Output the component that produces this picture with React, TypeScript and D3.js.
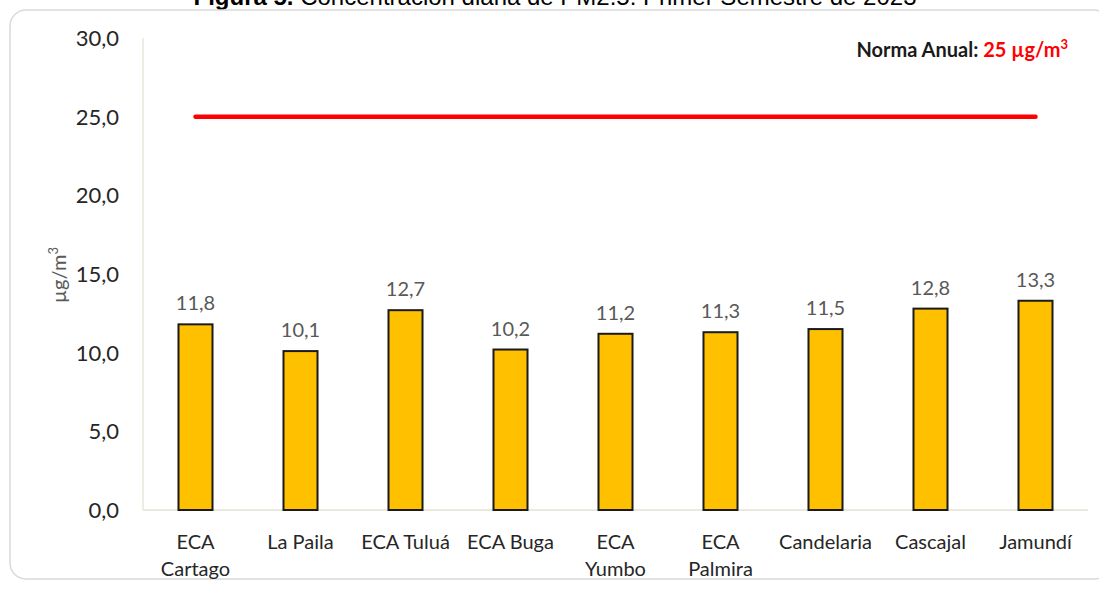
import * as d3 from "d3";

const categories: string[][] = [
  ["ECA", "Cartago"],
  ["La Paila"],
  ["ECA Tuluá"],
  ["ECA Buga"],
  ["ECA", "Yumbo"],
  ["ECA", "Palmira"],
  ["Candelaria"],
  ["Cascajal"],
  ["Jamundí"],
];
const values = [11.8, 10.1, 12.7, 10.2, 11.2, 11.3, 11.5, 12.8, 13.3];
const yTicks = [0, 5, 10, 15, 20, 25, 30];
const norma = 25;

const fmt = (v: number) => v.toFixed(1).replace(".", ",");
const FONT = "Lato, 'Open Sans', sans-serif";

export default function App() {
  const W = 1099;
  const H = 590;
  const left = 143;
  const right = 1088;
  const top = 38;
  const bottom = 510;

  const keys = categories.map((c) => c.join(" "));
  const x = d3.scaleBand<string>().domain(keys).range([left, right]).paddingInner(0.676).paddingOuter(0.338);
  const y = d3.scaleLinear().domain([0, 30]).range([bottom, top]);

  const cx = (k: string) => (x(k) ?? 0) + x.bandwidth() / 2;
  const normaLine = d3.line<string>().x((k) => cx(k)).y(() => y(norma));

  return (
    <svg
      width={W}
      height={H}
      style={{ position: "absolute", left: 0, top: 0, background: "#fff" }}
      fontFamily={FONT}
    >
      {/* caption, cut by the top edge as in the source */}
      <text x={555} y={5} textAnchor="middle" fontFamily="'Liberation Sans', Arial, sans-serif" fontSize={24} fill="#000">
        <tspan fontWeight="bold">Figura 5.</tspan> Concentración diaria de PM2.5: Primer Semestre de 2023
      </text>

      <rect x={10} y={10} width={1100} height={569} rx={16} fill="#fff" stroke="#d9d9d9" strokeWidth={1.5} />

      {/* axes */}
      <line x1={left} x2={left} y1={top} y2={bottom} stroke="#e5e0d6" strokeWidth={1.2} />
      <line x1={left} x2={right} y1={bottom} y2={bottom} stroke="#e5e0d6" strokeWidth={1.5} />

      {yTicks.map((t) => (
        <text key={t} x={119} y={y(t) + 8} textAnchor="end" fontSize={22} fill="#262626">
          {fmt(t)}
        </text>
      ))}

      <text transform={`translate(66,${275}) rotate(-90)`} textAnchor="middle" fontSize={20} fill="#595959">
        µg/m<tspan dy={-8} fontSize={13}>3</tspan>
      </text>

      {/* bars */}
      {keys.map((k, i) => (
        <g key={k}>
          <rect
            x={x(k)}
            y={y(values[i])}
            width={x.bandwidth()}
            height={bottom - y(values[i])}
            fill="#FFC000"
            stroke="#1a1a1a"
            strokeWidth={2}
          />
          <text x={cx(k)} y={y(values[i]) - 14} textAnchor="middle" fontSize={20} fill="#595959">
            {fmt(values[i])}
          </text>
          {categories[i].map((line, j) => (
            <text key={j} x={cx(k)} y={549 + j * 27} textAnchor="middle" fontSize={20} fill="#262626">
              {line}
            </text>
          ))}
        </g>
      ))}

      {/* annual standard */}
      <path d={normaLine([keys[0], keys[keys.length - 1]]) ?? ""} stroke="#ff0000" strokeWidth={4.5} strokeLinecap="round" fill="none" />

      <text x={1068} y={57} textAnchor="end" fontSize={20} fontWeight="bold" fill="#1a1a1a">
        Norma Anual: <tspan fill="#ff0000">25 µg/m</tspan>
        <tspan fill="#ff0000" dy={-8} fontSize={13}>3</tspan>
      </text>
    </svg>
  );
}
